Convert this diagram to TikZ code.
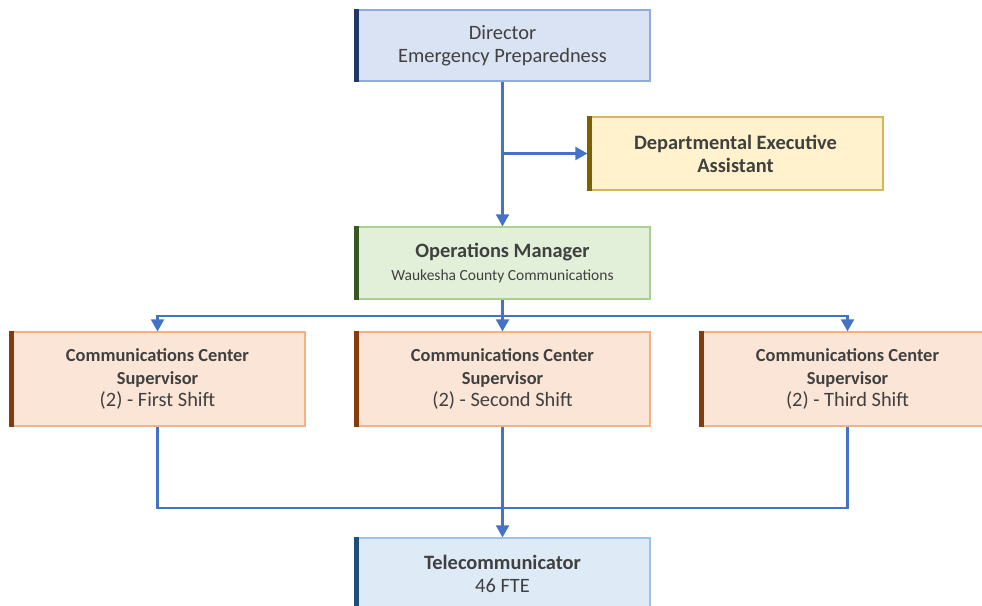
\documentclass[tikz,border=0pt]{standalone}
\usepackage{fontspec}
\setmainfont{Carlito}
\usepackage{tikz}
\usetikzlibrary{arrows.meta}

\definecolor{txtgray}{HTML}{404040}
\definecolor{linkblue}{HTML}{4472C4}
\definecolor{dirfill}{HTML}{DAE3F3}
\definecolor{dirline}{HTML}{8FAADC}
\definecolor{dirbar}{HTML}{203864}
\definecolor{deafill}{HTML}{FFF2CC}
\definecolor{dealine}{HTML}{D6B656}
\definecolor{deabar}{HTML}{7F6000}
\definecolor{opsfill}{HTML}{E2F0D9}
\definecolor{opsline}{HTML}{A9D18E}
\definecolor{opsbar}{HTML}{385723}
\definecolor{supfill}{HTML}{FBE5D6}
\definecolor{supline}{HTML}{F4B183}
\definecolor{supbar}{HTML}{843C0C}
\definecolor{telfill}{HTML}{DEEBF7}
\definecolor{telline}{HTML}{9DC3E6}
\definecolor{telbar}{HTML}{1F4E79}

\tikzset{
  box/.style={rectangle, draw, line width=1.3pt, minimum width=295pt,
    align=center, text=txtgray, font=\fontsize{20.4}{23}\selectfont},
  supbox/.style={box, fill=supfill, draw=supline, minimum height=94pt,
    font=\fontsize{18.4}{22.5}\selectfont},
  link/.style={draw=linkblue, line width=2.1pt},
  conn/.style={link, -{Triangle[length=12pt,width=13pt]}}
}

\begin{document}
\begin{tikzpicture}[x=1pt, y=-1pt]
		\useasboundingbox (0, 0) rectangle (982, 605);
		\clip (0, 0) rectangle (982, 605);

		\node[box, fill=dirfill, draw=dirline, minimum height=71pt] at (502.5, 45.5) (dir) {Director\\Emergency Preparedness};
		\node[box, fill=deafill, draw=dealine, minimum height=73pt] at (735.5, 153.5) (dea) {\textbf{Departmental Executive}\\\textbf{Assistant}};
		\node[box, fill=opsfill, draw=opsline, minimum height=72pt] at (502.5, 263) (ops) {\textbf{Operations Manager}\\{\fontsize{15.5}{16}\selectfont Waukesha County Communications}};

		\node[supbox] at (157.5, 379) (sup1) {\textbf{Communications Center}\\\textbf{Supervisor}\\{\fontsize{20.4}{22.5}\selectfont (2) - First Shift}};
		\node[supbox] at (502.5, 379) (sup2) {\textbf{Communications Center}\\\textbf{Supervisor}\\{\fontsize{20.4}{22.5}\selectfont (2) - Second Shift}};
		\node[supbox] at (847.5, 379) (sup3) {\textbf{Communications Center}\\\textbf{Supervisor}\\{\fontsize{20.4}{22.5}\selectfont (2) - Third Shift}};

		\node[box, fill=telfill, draw=telline, minimum height=71pt] at (502.5, 573.5) (tel) {\textbf{Telecommunicator}\\46 FTE};

		% dark bars on the left side
		\fill[dirbar] (dir.north west) rectangle ([xshift=5pt]dir.south west);
		\fill[deabar] (dea.north west) rectangle ([xshift=5pt]dea.south west);
		\fill[opsbar] (ops.north west) rectangle ([xshift=5pt]ops.south west);
		\fill[supbar] (sup1.north west) rectangle ([xshift=5pt]sup1.south west);
		\fill[supbar] (sup2.north west) rectangle ([xshift=5pt]sup2.south west);
		\fill[supbar] (sup3.north west) rectangle ([xshift=5pt]sup3.south west);
		\fill[telbar] (tel.north west) rectangle ([xshift=5pt]tel.south west);

		\coordinate (br) at (dir.south |- dea.west);
		\coordinate (split) at (502.5, 316);
		\coordinate (join) at (502.5, 508);

		\draw[conn] (dir.south) -- (ops.north);
		\draw[conn] (br) -- (dea.west);

		\draw[link] (ops.south) -- (split);
		\draw[conn] (split) -| (sup1.north);
		\draw[conn] (split) -- (sup2.north);
		\draw[conn] (split) -| (sup3.north);

		\draw[link] (sup1.south) |- (join);
		\draw[link] (sup3.south) |- (join);
		\draw[conn] (sup2.south) -- (tel.north);
	\end{tikzpicture}
\end{document}
